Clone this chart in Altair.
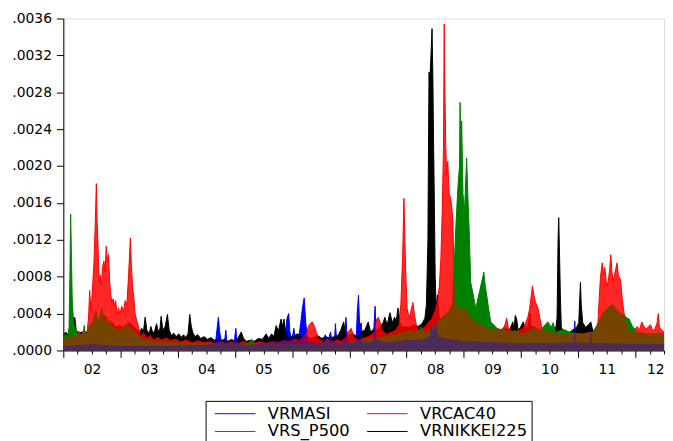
import altair as alt
import pandas as pd

# Values in units of 1e-4; time in decimal years
SERIES = ["VRMASI", "VRCAC40", "VRS_P500", "VRNIKKEI225"]
COLORS = ["#0000ff", "#ff0000", "#008000", "#000000"]
LEGEND_ORDER = ["VRMASI", "VRS_P500", "VRCAC40", "VRNIKKEI225"]

RED = [(2002.00,1.6),(2002.04,1.2),(2002.08,1.7),(2002.12,1.3),(2002.17,1.9),(2002.22,1.4),(2002.27,2.1),(2002.32,1.6),(2002.37,2.2),(2002.41,1.8),(2002.44,3.4),(2002.46,6.5),(2002.485,4.2),(2002.51,6.8),(2002.535,9.5),(2002.555,13.0),(2002.577,18.1),(2002.59,14.0),(2002.605,11.7),(2002.625,7.4),(2002.645,8.2),(2002.665,7.0),(2002.685,9.0),(2002.71,9.7),(2002.73,8.5),(2002.75,11.3),(2002.77,9.6),(2002.79,10.4),(2002.81,7.5),(2002.83,6.0),(2002.85,5.2),(2002.87,5.6),(2002.89,4.9),(2002.915,5.4),(2002.94,3.8),(2002.965,4.6),(2002.99,3.9),(2003.02,4.8),(2003.05,4.2),(2003.08,5.4),(2003.11,5.0),(2003.135,7.5),(2003.155,10.0),(2003.172,12.2),(2003.19,9.1),(2003.21,7.0),(2003.23,5.9),(2003.255,4.0),(2003.28,3.3),(2003.31,2.7),(2003.35,1.6),(2003.40,2.0),(2003.46,1.4),(2003.52,1.7),(2003.58,1.2),(2003.65,1.5),(2003.72,1.2),(2003.80,1.4),(2003.88,1.1),(2003.96,1.3),(2004.05,1.0),(2004.15,1.2),(2004.25,0.9),(2004.35,1.1),(2004.45,0.9),(2004.55,1.0),(2004.65,0.8),(2004.75,1.0),(2004.85,0.8),(2004.95,1.0),(2005.05,0.8),(2005.15,1.0),(2005.25,0.8),(2005.35,0.9),(2005.45,1.0),(2005.55,0.8),(2005.65,1.0),(2005.75,0.9),(2005.85,1.1),(2005.95,1.0),(2006.05,1.3),(2006.12,1.1),(2006.20,1.6),(2006.26,2.2),(2006.30,2.8),(2006.35,3.1),(2006.39,2.6),(2006.43,1.8),(2006.48,1.2),(2006.55,1.0),(2006.62,1.3),(2006.70,1.0),(2006.78,1.2),(2006.86,1.0),(2006.93,1.4),(2006.98,2.0),(2007.03,2.4),(2007.08,1.5),(2007.15,1.2),(2007.25,1.4),(2007.35,1.6),(2007.43,2.0),(2007.47,3.3),(2007.505,3.6),(2007.54,3.0),(2007.58,2.2),(2007.65,1.8),(2007.72,2.0),(2007.80,2.2),(2007.86,2.8),(2007.90,5.0),(2007.93,10.0),(2007.954,16.5),(2007.97,12.0),(2007.985,8.5),(2008.01,4.5),(2008.05,3.5),(2008.08,4.4),(2008.11,5.2),(2008.14,3.8),(2008.17,2.8),(2008.22,2.0),(2008.27,2.4),(2008.32,2.6),(2008.37,3.0),(2008.43,3.4),(2008.50,4.5),(2008.54,5.5),(2008.573,7.0),(2008.60,10.0),(2008.625,15.5),(2008.645,22.0),(2008.658,35.4),(2008.67,28.0),(2008.684,22.5),(2008.70,19.0),(2008.72,20.5),(2008.745,17.0),(2008.77,16.5),(2008.79,15.5),(2008.81,14.0),(2008.83,8.1),(2008.85,6.0),(2008.88,4.5),(2008.92,5.0),(2008.96,4.2),(2009.00,4.5),(2009.05,4.4),(2009.10,3.8),(2009.14,3.5),(2009.20,3.2),(2009.26,3.0),(2009.33,2.8),(2009.40,2.5),(2009.47,2.3),(2009.54,2.2),(2009.61,2.4),(2009.66,2.0),(2009.72,2.8),(2009.75,3.5),(2009.78,2.4),(2009.83,2.2),(2009.89,2.0),(2009.95,2.2),(2010.02,2.4),(2010.07,2.8),(2010.12,3.6),(2010.15,4.5),(2010.18,6.0),(2010.20,7.0),(2010.22,6.2),(2010.245,5.4),(2010.27,5.0),(2010.30,4.5),(2010.33,3.5),(2010.36,2.6),(2010.41,2.2),(2010.48,2.0),(2010.56,2.0),(2010.64,1.8),(2010.73,1.8),(2010.82,1.9),(2010.91,1.8),(2011.00,1.9),(2011.08,1.8),(2011.17,2.0),(2011.25,2.0),(2011.31,2.3),(2011.345,3.0),(2011.37,5.9),(2011.39,8.0),(2011.42,9.5),(2011.445,8.2),(2011.465,9.0),(2011.49,7.5),(2011.51,7.0),(2011.535,8.0),(2011.55,8.8),(2011.57,10.4),(2011.59,8.5),(2011.61,7.5),(2011.635,8.2),(2011.655,8.8),(2011.68,9.5),(2011.70,8.2),(2011.72,7.9),(2011.74,7.7),(2011.77,5.5),(2011.80,4.1),(2011.84,3.0),(2011.89,2.2),(2011.96,2.0),(2012.03,2.6),(2012.07,2.2),(2012.11,3.1),(2012.15,2.6),(2012.18,2.3),(2012.22,2.5),(2012.26,2.8),(2012.30,2.2),(2012.34,2.3),(2012.38,3.0),(2012.40,4.0),(2012.42,2.5),(2012.46,2.2),(2012.50,2.0)]

GREEN = [(2002.00,1.5),(2002.04,1.8),(2002.08,1.6),(2002.10,2.5),(2002.115,8.0),(2002.128,14.8),(2002.14,10.9),(2002.155,5.6),(2002.175,3.5),(2002.20,2.6),(2002.24,2.0),(2002.29,1.6),(2002.33,1.9),(2002.355,2.2),(2002.365,2.7),(2002.38,1.6),(2002.42,2.0),(2002.47,2.8),(2002.52,3.2),(2002.57,4.4),(2002.60,3.0),(2002.64,3.6),(2002.68,4.6),(2002.71,3.2),(2002.74,3.8),(2002.78,2.8),(2002.82,3.3),(2002.86,2.6),(2002.92,2.4),(2002.98,2.2),(2003.05,2.6),(2003.12,2.8),(2003.20,2.4),(2003.28,1.8),(2003.36,1.4),(2003.45,1.2),(2003.55,1.1),(2003.70,1.0),(2003.85,0.9),(2004.00,0.9),(2004.20,0.8),(2004.40,0.8),(2004.60,0.8),(2004.80,0.7),(2005.00,0.7),(2005.20,0.7),(2005.30,1.2),(2005.34,0.8),(2005.50,0.7),(2005.70,0.7),(2005.90,0.7),(2006.10,0.7),(2006.30,0.8),(2006.50,0.7),(2006.60,1.0),(2006.70,0.8),(2006.90,0.8),(2007.10,1.0),(2007.25,1.2),(2007.40,1.3),(2007.55,1.5),(2007.70,1.6),(2007.85,1.8),(2007.95,2.0),(2008.05,2.2),(2008.15,2.0),(2008.22,2.3),(2008.255,2.6),(2008.28,2.2),(2008.35,2.0),(2008.45,2.5),(2008.55,3.2),(2008.65,3.8),(2008.74,4.2),(2008.80,5.0),(2008.831,9.0),(2008.866,14.0),(2008.90,18.0),(2008.925,20.0),(2008.935,26.9),(2008.948,21.0),(2008.963,24.9),(2008.986,17.0),(2009.012,15.0),(2009.05,20.9),(2009.07,17.0),(2009.10,12.0),(2009.12,7.4),(2009.15,6.5),(2009.17,5.9),(2009.21,4.5),(2009.245,5.6),(2009.28,6.5),(2009.315,7.5),(2009.35,8.5),(2009.375,7.0),(2009.41,5.6),(2009.435,4.5),(2009.47,3.1),(2009.52,2.8),(2009.61,2.2),(2009.70,2.4),(2009.80,2.0),(2009.90,2.2),(2010.04,1.8),(2010.14,2.2),(2010.22,2.5),(2010.35,2.2),(2010.42,2.8),(2010.47,3.1),(2010.53,2.5),(2010.56,3.0),(2010.61,2.0),(2010.73,2.3),(2010.85,2.0),(2010.95,1.9),(2011.08,1.8),(2011.25,2.0),(2011.34,2.8),(2011.42,4.0),(2011.52,4.6),(2011.60,5.0),(2011.68,4.4),(2011.74,4.0),(2011.80,3.8),(2011.86,3.5),(2011.89,3.4),(2011.95,2.6),(2012.03,2.0),(2012.20,1.8),(2012.37,1.8),(2012.50,1.8)]

BLACK = [(2002.00,1.5),(2002.04,2.0),(2002.08,1.7),(2002.12,2.4),(2002.145,3.0),(2002.16,3.7),(2002.18,3.3),(2002.20,3.6),(2002.225,2.2),(2002.27,1.8),(2002.32,2.0),(2002.38,1.8),(2002.44,2.2),(2002.50,2.8),(2002.56,3.0),(2002.62,3.2),(2002.68,3.5),(2002.74,3.8),(2002.80,2.8),(2002.86,3.0),(2002.92,2.5),(2002.98,2.7),(2003.04,2.5),(2003.10,2.8),(2003.16,3.0),(2003.22,2.6),(2003.28,2.3),(2003.33,1.9),(2003.37,2.4),(2003.40,2.0),(2003.43,3.6),(2003.46,2.2),(2003.50,1.8),(2003.53,2.6),(2003.57,1.8),(2003.60,2.2),(2003.63,2.9),(2003.66,2.0),(2003.69,2.4),(2003.71,3.7),(2003.74,2.2),(2003.78,2.6),(2003.82,3.9),(2003.85,2.2),(2003.89,1.6),(2003.93,1.9),(2003.97,1.5),(2004.02,1.8),(2004.06,1.4),(2004.10,1.7),(2004.14,1.4),(2004.18,1.8),(2004.21,3.9),(2004.235,2.7),(2004.26,2.0),(2004.30,1.5),(2004.35,1.7),(2004.40,1.3),(2004.46,1.5),(2004.52,1.2),(2004.58,1.4),(2004.64,1.1),(2004.70,1.3),(2004.76,1.1),(2004.82,1.2),(2004.88,1.0),(2004.94,1.2),(2005.00,1.0),(2005.05,1.3),(2005.11,2.0),(2005.15,1.3),(2005.20,1.0),(2005.27,1.1),(2005.34,1.0),(2005.41,1.3),(2005.48,1.2),(2005.546,1.8),(2005.59,1.3),(2005.64,1.8),(2005.68,1.5),(2005.72,2.7),(2005.76,2.1),(2005.805,3.4),(2005.83,2.6),(2005.857,3.4),(2005.88,2.2),(2005.92,1.7),(2005.97,1.5),(2006.03,1.6),(2006.10,1.8),(2006.17,1.5),(2006.24,1.7),(2006.31,1.3),(2006.38,1.4),(2006.45,1.6),(2006.52,1.3),(2006.59,1.5),(2006.66,1.3),(2006.73,1.5),(2006.80,1.6),(2006.85,2.2),(2006.90,3.1),(2006.93,2.0),(2006.98,1.6),(2007.05,1.8),(2007.12,1.6),(2007.20,2.0),(2007.27,2.2),(2007.33,3.1),(2007.37,2.0),(2007.42,2.3),(2007.48,2.2),(2007.54,2.6),(2007.59,3.0),(2007.62,3.6),(2007.66,2.8),(2007.71,4.1),(2007.75,3.0),(2007.79,3.6),(2007.82,3.2),(2007.85,4.6),(2007.88,3.0),(2007.92,2.5),(2007.98,2.6),(2008.05,2.5),(2008.12,2.8),(2008.20,2.6),(2008.27,2.9),(2008.32,3.5),(2008.347,5.0),(2008.373,12.0),(2008.385,24.0),(2008.393,30.2),(2008.40,29.0),(2008.416,30.5),(2008.433,33.0),(2008.445,34.9),(2008.459,30.0),(2008.473,22.0),(2008.485,16.3),(2008.50,8.0),(2008.518,4.5),(2008.54,6.0),(2008.573,3.5),(2008.62,3.0),(2008.70,3.2),(2008.78,3.6),(2008.83,5.5),(2008.87,3.8),(2008.95,4.0),(2009.02,3.5),(2009.10,3.0),(2009.18,3.2),(2009.26,2.8),(2009.34,2.6),(2009.42,2.4),(2009.50,2.2),(2009.58,2.0),(2009.66,2.2),(2009.73,2.5),(2009.80,2.2),(2009.856,3.1),(2009.88,2.4),(2009.90,3.8),(2009.925,3.4),(2009.95,2.2),(2009.99,2.5),(2010.04,3.1),(2010.08,2.3),(2010.12,2.6),(2010.157,4.0),(2010.18,2.6),(2010.25,2.5),(2010.32,2.0),(2010.40,2.3),(2010.47,2.0),(2010.55,2.2),(2010.61,2.5),(2010.63,3.5),(2010.64,8.0),(2010.648,12.0),(2010.66,14.4),(2010.672,11.0),(2010.688,6.0),(2010.705,2.5),(2010.75,2.0),(2010.82,1.8),(2010.90,2.2),(2010.97,2.5),(2011.01,3.0),(2011.026,5.5),(2011.04,7.4),(2011.052,5.0),(2011.08,3.0),(2011.13,2.5),(2011.18,2.8),(2011.22,3.1),(2011.26,2.0),(2011.35,1.8),(2011.45,2.4),(2011.55,2.6),(2011.65,2.4),(2011.75,2.5),(2011.85,2.0),(2011.95,1.8),(2012.10,1.7),(2012.25,1.6),(2012.40,1.8),(2012.50,1.6)]

BLUE = [(2002.00,0.5),(2002.25,0.6),(2002.50,0.7),(2002.75,0.6),(2003.00,0.5),(2003.30,0.5),(2003.60,0.5),(2003.90,0.5),(2004.20,0.6),(2004.45,0.6),(2004.60,0.7),(2004.664,1.0),(2004.69,2.5),(2004.71,3.6),(2004.733,2.0),(2004.768,0.8),(2004.82,1.0),(2004.84,2.2),(2004.86,0.8),(2004.92,0.8),(2004.99,1.0),(2005.015,2.4),(2005.036,0.8),(2005.20,0.6),(2005.40,0.7),(2005.60,0.8),(2005.80,1.0),(2005.875,1.3),(2005.91,3.5),(2005.94,4.0),(2005.96,2.0),(2005.996,1.1),(2006.03,2.4),(2006.056,0.9),(2006.116,1.4),(2006.15,3.0),(2006.177,4.5),(2006.21,5.7),(2006.238,3.0),(2006.27,1.0),(2006.40,0.8),(2006.52,0.8),(2006.58,1.7),(2006.62,0.8),(2006.67,2.0),(2006.70,0.8),(2006.74,1.0),(2006.756,2.9),(2006.78,0.8),(2006.88,0.8),(2006.92,1.4),(2006.94,3.6),(2006.963,1.0),(2007.05,0.8),(2007.12,1.0),(2007.137,4.0),(2007.16,6.0),(2007.18,2.5),(2007.206,3.0),(2007.23,0.9),(2007.35,0.9),(2007.42,1.1),(2007.43,2.5),(2007.45,4.8),(2007.47,1.3),(2007.60,0.9),(2007.80,1.0),(2008.00,1.1),(2008.30,1.2),(2008.41,1.6),(2008.433,3.1),(2008.47,2.2),(2008.52,3.0),(2008.56,1.5),(2008.80,1.2),(2009.00,1.0),(2009.50,0.9),(2010.00,0.8),(2010.50,0.8),(2010.92,0.9),(2010.94,3.2),(2010.957,0.9),(2011.10,0.8),(2011.20,0.8),(2011.216,2.8),(2011.24,0.8),(2011.50,0.8),(2012.00,0.7),(2012.50,0.7)]

YEARS = list(range(2002, 2013))
Y_TICKS = [0.0, 0.0004, 0.0008, 0.0012, 0.0016, 0.0020, 0.0024, 0.0028, 0.0032, 0.0036]

rows = []
for name, pts in zip(SERIES, [BLUE, RED, GREEN, BLACK]):
    for t, v in pts:
        rows.append({"series": name, "t": t, "v": v * 1e-4})
df = pd.DataFrame(rows).sort_values(["series", "t"]).reset_index(drop=True)

x_ticks = [y + q / 4 for y in YEARS for q in range(4) if y + q / 4 <= 2012.5] + [2012.5]

FONT = "DejaVu Sans"
col = dict(zip(SERIES, COLORS))

x_axis = alt.Axis(
    values=x_ticks,
    title=None,
    grid=False,
    labelExpr="datum.value % 1 == 0 ? substring(toString(datum.value), 2) : ''",
    labelOffset=29,
    labelAlign={"condition": {"test": "datum.value == 2012", "value": "right"}, "value": "center"},
    tickSize={"condition": {"test": "datum.value % 1 != 0", "value": 3.5}, "value": 7},
    labelPadding=5,
    labelOverlap=False,
    labelFlush=False,
    labelFont=FONT,
    labelFontSize=14,
    labelColor="black",
    domainColor="black",
    tickColor="black",
)

y_axis = alt.Axis(
    values=Y_TICKS,
    title=None,
    grid=False,
    labelExpr="substring(format(datum.value, '.4f'), 1)",
    tickSize=7,
    labelPadding=5,
    labelFont=FONT,
    labelFontSize=14,
    labelColor="black",
    domainColor="black",
    tickColor="black",
    labelOverlap=False,
)

X = alt.X("t:Q", scale=alt.Scale(domain=[2002, 2012.5], nice=False, zero=False), axis=x_axis)
Y = alt.Y("v:Q", scale=alt.Scale(domain=[0, 0.0036], nice=False), axis=y_axis)


def area(name, opacity):
    return (
        alt.Chart(df)
        .transform_filter(alt.datum.series == name)
        .mark_area(fill=col[name], fillOpacity=opacity, strokeWidth=0, interpolate="linear")
        .encode(x=X, y=Y)
    )


lines = (
    alt.Chart(df)
    .mark_line(strokeWidth=1)
    .encode(
        x=X,
        y=Y,
        order="t:Q",
        stroke=alt.Stroke(
            "series:N",
            scale=alt.Scale(domain=LEGEND_ORDER, range=[col[s] for s in LEGEND_ORDER]),
            legend=alt.Legend(
                orient="none",
                legendX=144,
                legendY=387,
                columns=2,
                title=None,
                symbolType="stroke",
                symbolSize=1681,
                symbolStrokeWidth=1,
                clipHeight=18,
                rowPadding=0,
                columnPadding=12,
                padding=4,
                strokeColor="black",
                labelFont=FONT,
                labelFontSize=16.5,
                labelColor="black",
                labelOffset=12,
                symbolOffset=5,
            ),
        ),
    )
)

chart = alt.layer(
    lines,
    area("VRMASI", 1.0),
    area("VRNIKKEI225", 1.0),
    area("VRS_P500", 1.0),
    area("VRCAC40", 0.85),
    area("VRS_P500", 0.45),
    area("VRMASI", 0.35),
).properties(
    width=608,
    height=336,
    autosize=alt.AutoSizeParams(type="none"),
    padding={"left": 56, "top": 8, "right": 1, "bottom": 89},
).configure_view(
    stroke="black", strokeWidth=1
).configure(background="white")

chart.save("out.html", embed_options={"renderer": "svg", "actions": False})
